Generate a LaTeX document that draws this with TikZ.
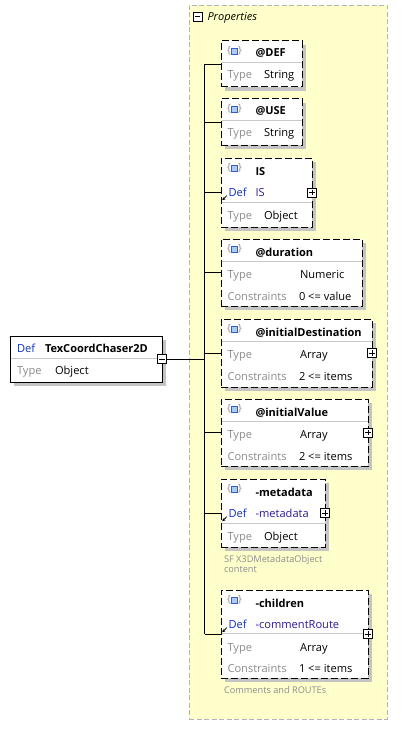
\documentclass[tikz,border=0pt]{standalone}
\usepackage{fontspec}
\setmainfont{Open Sans}
\usetikzlibrary{shadows,arrows.meta}
\definecolor{ybg}{HTML}{FFFFCC}
\definecolor{yborder}{HTML}{B4B4B4}
\definecolor{shadowgray}{HTML}{C4C4C4}
\definecolor{divgray}{HTML}{C8C8C8}
\definecolor{lblgray}{HTML}{8C8C8C}
\definecolor{defblue}{HTML}{1030C0}
\definecolor{refblue}{HTML}{2A1A9A}
\definecolor{iconblue}{HTML}{2F5FD0}
\definecolor{iconfill}{HTML}{A8CCFF}
\begin{document}
\begin{tikzpicture}[x=1pt,y=-1pt,
  every node/.style={inner sep=0pt,outer sep=0pt},
  fnt/.style={font=\fontsize{11.1}{13}\selectfont},
  namet/.style={font=\fontsize{11}{13}\selectfont\bfseries,anchor=base west},
  lbl/.style={fnt,text=lblgray,anchor=base west},
  val/.style={fnt,text=black,anchor=base west},
  deflbl/.style={fnt,text=defblue,anchor=base west},
  refval/.style={fnt,text=refblue,anchor=base west},
  note/.style={font=\fontsize{9.2}{10}\selectfont,text=lblgray,anchor=base west},
  childbox/.style={draw,line width=1pt,dash pattern=on 7pt off 3pt,fill=white,anchor=north west,
    drop shadow={shadow xshift=4pt,shadow yshift=-4pt,fill=shadowgray,opacity=1}},
  mainbox/.style={draw,line width=0.9pt,fill=white,anchor=north west,
    drop shadow={shadow xshift=4pt,shadow yshift=-4pt,fill=shadowgray,opacity=1}},
  divline/.style={draw=divgray,line width=0.8pt},
  conn/.style={draw=black,line width=0.9pt},
  togglebox/.style={draw=black,fill=white,line width=0.8pt,minimum size=9pt},
  plusbox/.style={togglebox,path picture={
     \draw[line width=0.8pt] ([xshift=1.8pt]path picture bounding box.west) -- ([xshift=-1.8pt]path picture bounding box.east);
     \draw[line width=0.8pt] ([yshift=-1.8pt]path picture bounding box.north) -- ([yshift=1.8pt]path picture bounding box.south);}},
  minusbox/.style={togglebox,path picture={
     \draw[line width=0.8pt] ([xshift=1.8pt]path picture bounding box.west) -- ([xshift=-1.8pt]path picture bounding box.east);}},
  refarrow/.style={line width=0.8pt,-{Stealth[length=3pt,width=3.2pt]}},
  attricon/.pic={
     \node[font=\fontsize{10}{11}\selectfont,text=lblgray] (-l) at (-5.5,-0.6) {\{};
     \node[font=\fontsize{10}{11}\selectfont,text=lblgray] (-r) at (5.5,-0.6) {\}};
     \node[draw=iconblue,fill=iconfill,line width=0.8pt,minimum size=5.5pt] (-s) at (0,0) {};
  }
]
\useasboundingbox (0,0) rectangle (403,733);

% Properties container
\node[draw=yborder,fill=ybg,line width=0.9pt,dash pattern=on 5pt off 2.5pt,anchor=north west,
  minimum width=198pt,minimum height=714pt] (props) at (189,5) {};
\node[minusbox] (propsMinus) at (197.5,16.5) {};
\node[font=\fontsize{11}{13}\selectfont\itshape,anchor=base west] (propsT) at (207.5,20.5) {Properties};

% Main element
\node[mainbox,minimum width=152pt,minimum height=46pt] (main) at (10,336) {};
\draw[divline] (10.5,358) -- (161.5,358);
\node[deflbl] (mainDef) at (17,352) {Def};
\node[namet] (mainName) at (45,352) {TexCoordChaser2D};
\node[lbl] (mainType) at (17,374) {Type};
\node[val] (mainTypeV) at (55,374) {Object};
\node[minusbox] (mainMinus) at (main.east) {};

% @DEF
\node[childbox,minimum width=81pt,minimum height=46pt] (def) at (221,41) {};
\draw[divline] (221.5,62.5) -- (301.5,62.5);
\pic (iDEF) at (234.5,51.5) {attricon};
\node[namet] (defN) at (255.5,57) {@DEF};
\node[lbl] (defT) at (227.5,78.5) {Type};
\node[val] (defV) at (264,78.5) {String};

% @USE
\node[childbox,minimum width=81pt,minimum height=46pt] (use) at (221,99) {};
\draw[divline] (221.5,120.5) -- (301.5,120.5);
\pic (iUSE) at (234.5,109.5) {attricon};
\node[namet] (useN) at (255.5,115) {@USE};
\node[lbl] (useT) at (227.5,136.5) {Type};
\node[val] (useV) at (264,136.5) {String};

% IS
\node[childbox,minimum width=91pt,minimum height=69pt] (is) at (221,158) {};
\draw[divline] (221.5,202) -- (311.5,202);
\pic (iIS) at (234.5,168.5) {attricon};
\node[namet] (isN) at (255.5,175) {IS};
\node[deflbl] (isD) at (228.5,196) {Def};
\node[refval] (isDV) at (255.5,196) {IS};
\draw[refarrow] (226.8,195.6) -- (222.3,200.2);
\node[lbl] (isT) at (227.5,219) {Type};
\node[val] (isV) at (264,219) {Object};
\node[plusbox] (isP) at (is.east) {};

% @duration
\node[childbox,minimum width=141pt,minimum height=67pt] (dur) at (221,239) {};
\draw[divline] (221.5,261) -- (361.5,261);
\pic (iDur) at (234.5,249.5) {attricon};
\node[namet] (durN) at (255.5,256) {@duration};
\node[lbl] (durT) at (227.5,278) {Type};
\node[val] (durV) at (300,278) {Numeric};
\node[lbl] (durC) at (227.5,300) {Constraints};
\node[val] (durCV) at (299,300) {0 <= value};

% @initialDestination
\node[childbox,minimum width=151pt,minimum height=68pt] (idest) at (221,319) {};
\draw[divline] (221.5,341.5) -- (371.5,341.5);
\pic (iIdest) at (234.5,329.5) {attricon};
\node[namet] (idestN) at (255.5,336) {@initialDestination};
\node[lbl] (idestT) at (227.5,358) {Type};
\node[val] (idestV) at (300,358) {Array};
\node[lbl] (idestC) at (227.5,380) {Constraints};
\node[val] (idestCV) at (299,380) {2 <= items};
\node[plusbox] (idestP) at (idest.east) {};

% @initialValue
\node[childbox,minimum width=147pt,minimum height=67pt] (ival) at (221,399) {};
\draw[divline] (221.5,421.5) -- (367.5,421.5);
\pic (iIval) at (234.5,409.5) {attricon};
\node[namet] (ivalN) at (255.5,416) {@initialValue};
\node[lbl] (ivalT) at (227.5,438) {Type};
\node[val] (ivalV) at (300,438) {Array};
\node[lbl] (ivalC) at (227.5,460) {Constraints};
\node[val] (ivalCV) at (299,460) {2 <= items};
\node[plusbox] (ivalP) at (ival.east) {};

% -metadata
\node[childbox,minimum width=104pt,minimum height=68pt] (meta) at (221,479) {};
\draw[divline] (221.5,523) -- (324.5,523);
\pic (iMeta) at (234.5,489.5) {attricon};
\node[namet] (metaN) at (255.5,496) {-metadata};
\node[deflbl] (metaD) at (228.5,517) {Def};
\node[refval] (metaDV) at (255.5,517) {-metadata};
\draw[refarrow] (226.8,516.6) -- (222.3,521.2);
\node[lbl] (metaT) at (227.5,540) {Type};
\node[val] (metaV) at (264,540) {Object};
\node[plusbox] (metaP) at (meta.east) {};
\node[note] (metaNote1) at (224,562) {SF X3DMetadataObject};
\node[note] (metaNote2) at (224,572.5) {content};

% -children
\node[childbox,minimum width=147pt,minimum height=88pt] (chil) at (221,590) {};
\draw[divline] (221.5,633) -- (367.5,633);
\pic (iChil) at (234.5,600.5) {attricon};
\node[namet] (chilN) at (255.5,607) {-children};
\node[deflbl] (chilD) at (228.5,628) {Def};
\node[refval] (chilDV) at (255.5,628) {-commentRoute};
\draw[refarrow] (226.8,627.6) -- (222.3,632.2);
\node[lbl] (chilT) at (227.5,651) {Type};
\node[val] (chilV) at (300,651) {Array};
\node[lbl] (chilC) at (227.5,672.5) {Constraints};
\node[val] (chilCV) at (299,672.5) {1 <= items};
\node[plusbox] (chilP) at (chil.east) {};
\node[note] (chilNote) at (224,693) {Comments and ROUTEs};

% connectors
\coordinate (tr) at (204.5,0);
\draw[conn] (tr |- def.west) -- (tr |- chil.west);
\draw[conn] (mainMinus.east) -- (tr |- mainMinus.east);
\foreach \b in {def,use,is,dur,idest,ival,meta,chil}{
  \draw[conn] (tr |- \b.west) -- (\b.west);
}
\end{tikzpicture}
\end{document}
